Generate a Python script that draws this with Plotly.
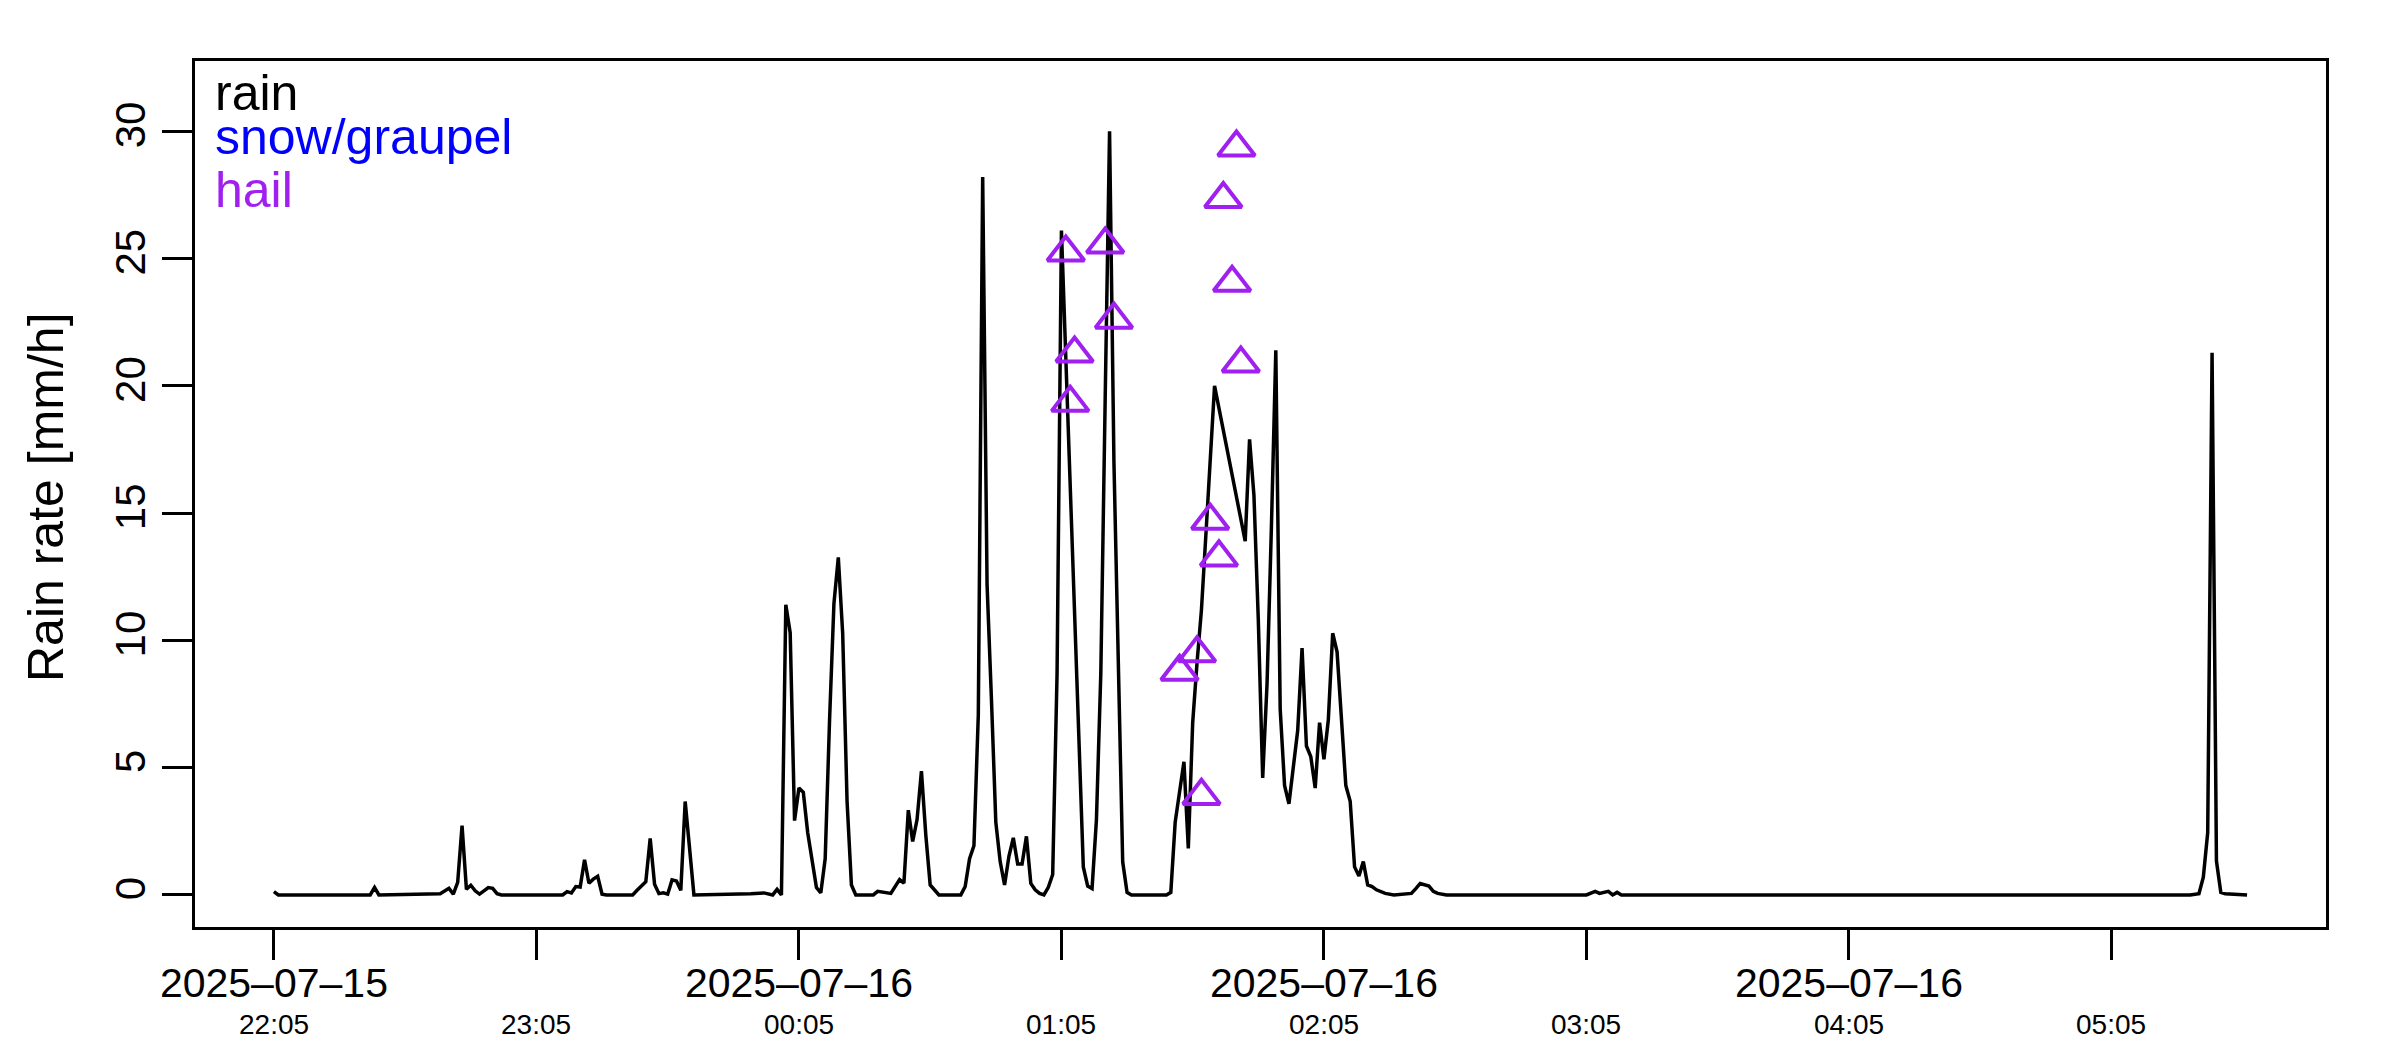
import pandas as pd
import plotly.graph_objects as go

start = pd.Timestamp("2025-07-15 22:05")

# rain rate [mm/h], time given as minutes after 22:05
rain_min = [0, 1, 22, 23, 24, 38, 40, 41, 42, 43, 44, 45, 46, 47, 49, 50, 51, 52,
            66, 67, 68, 69, 70, 71, 72, 73, 74, 75, 76, 82, 83, 85, 86, 87, 88, 89, 90, 91, 92, 93, 94, 95, 96,
            109, 112, 114, 115, 116, 117, 118, 119, 120, 121, 122, 123, 124, 125, 126, 127, 128, 129, 130, 131, 132, 133,
            137, 138, 140, 141, 143, 144, 145, 146, 147, 148, 149, 150, 152,
            157, 158, 159, 160, 161, 162, 163, 164, 165, 166, 167, 168, 169, 170, 171, 172, 173, 174, 175, 176,
            177, 178, 179, 180, 181, 182, 183, 184, 185, 186, 187, 188, 189, 190, 191, 192, 193, 194, 195, 196,
            204, 205, 206, 207, 208, 209, 210, 211, 212, 213, 214, 215,
            222, 223, 224, 225, 226, 227, 228, 229, 230, 231, 232, 233, 234, 235, 236, 237, 238, 239, 240, 241,
            242, 243, 244, 245, 246, 247, 248, 249, 250, 251, 252, 254, 256,
            260, 261, 262, 264, 265, 266, 268,
            300, 301, 302, 303, 305, 306, 307, 308,
            438, 440, 441, 442, 443, 444, 445, 446, 451]
rain_val = [0.13, 0, 0, 0.29, 0, 0.05, 0.26, 0.03, 0.49, 2.72, 0.22, 0.38, 0.16, 0.03, 0.29, 0.26, 0.05, 0,
            0, 0.13, 0.08, 0.33, 0.31, 1.38, 0.46, 0.62, 0.73, 0.03, 0, 0, 0.18, 0.52, 2.22, 0.42, 0.05, 0.08, 0.03, 0.59, 0.55, 0.18, 3.67, 2.0, 0,
            0.05, 0.08, 0, 0.22, 0, 11.4, 10.3, 2.92, 4.2, 4.03, 2.45, 1.31, 0.29, 0.08, 1.42, 6.87, 11.44, 13.26, 10.28, 3.68, 0.39, 0,
            0, 0.14, 0.1, 0.06, 0.6, 0.46, 3.33, 2.1, 2.96, 4.86, 2.35, 0.39, 0,
            0, 0.33, 1.42, 1.93, 7.08, 28.2, 12.2, 7.7, 2.86, 1.31, 0.39, 1.52, 2.24, 1.21, 1.21, 2.3, 0.45, 0.2, 0.06, 0,
            0.3, 0.8, 8.7, 26.1, 21.0, 16.2, 10.8, 5.4, 1.1, 0.35, 0.25, 2.96, 8.7, 19.5, 30.0, 17.0, 8.7, 1.3, 0.1, 0,
            0, 0.1, 2.86, 3.99, 5.23, 1.83, 6.77, 9.14, 11.2, 14.1, 17.0, 20.0,
            13.9, 17.9, 15.7, 10.8, 4.6, 8.3, 14.5, 21.4, 7.3, 4.3, 3.58, 5.0, 6.46, 9.7, 5.85, 5.43, 4.2, 6.77, 5.33, 6.87,
            10.28, 9.55, 6.67, 4.3, 3.68, 1.1, 0.74, 1.31, 0.39, 0.33, 0.2, 0.06, 0,
            0.06, 0.25, 0.45, 0.35, 0.14, 0.06, 0,
            0, 0.06, 0.14, 0.06, 0.14, 0, 0.1, 0,
            0, 0.05, 0.7, 2.45, 21.3, 1.33, 0.1, 0.05, 0]

# hail observations
hail_min = [181, 182, 183, 190, 192, 207, 211, 212, 214, 216, 217, 219, 220, 221]
hail_val = [25.24, 19.33, 21.27, 25.55, 22.6, 8.77, 9.49, 3.89, 14.7, 13.26, 27.34, 24.05, 29.36, 20.88]

# axis ticks
tick_min = [0, 60, 120, 180, 240, 300, 360, 420]
tick_dates = ["2025–07–15", "", "2025–07–16", "", "2025–07–16", "", "2025–07–16", ""]
tick_times = ["22:05", "23:05", "00:05", "01:05", "02:05", "03:05", "04:05", "05:05"]
y_ticks = [0, 5, 10, 15, 20, 25, 30]

legend_labels = ["rain", "snow/graupel", "hail"]
legend_colors = ["black", "#0000FF", "#A020F0"]


def to_time(minutes):
    return [(start + pd.Timedelta(minutes=m)).strftime("%Y-%m-%d %H:%M:%S.%f") for m in minutes]


font = "Liberation Sans, Arial, Helvetica, sans-serif"

fig = go.Figure()
fig.add_trace(go.Scatter(x=to_time(rain_min), y=rain_val, mode="lines",
                         line=dict(color="black", width=3.5), showlegend=False))
fig.add_trace(go.Scatter(x=to_time(hail_min), y=hail_val, mode="markers",
                         marker=dict(symbol="triangle-up-open", size=32, color="#A020F0",
                                     line=dict(color="#A020F0", width=4)),
                         showlegend=False))

# time of day under each tick
for m, t in zip(tick_min, tick_times):
    fig.add_annotation(x=to_time([m])[0], y=0, xref="x", yref="paper", text=t, showarrow=False,
                       xanchor="center", yanchor="middle", yshift=-97,
                       font=dict(family=font, size=28, color="black"))

# coloured text legend
legend_shift = [-32, -76, -129]
for lab, col, ys in zip(legend_labels, legend_colors, legend_shift):
    fig.add_annotation(x=0, y=1, xref="paper", yref="paper", text=lab, showarrow=False,
                       xanchor="left", yanchor="middle", xshift=18, yshift=ys,
                       font=dict(family=font, size=50, color=col))

fig.add_annotation(x=0, y=0.4965, xref="paper", yref="paper", text="Rain rate [mm/h]",
                   textangle=-90, showarrow=False, xanchor="center", yanchor="middle", xshift=-149,
                   font=dict(family=font, size=50, color="black"))

fig.update_xaxes(type="date", range=to_time([-18.04, 469.04]),
                 tickvals=to_time(tick_min), ticktext=tick_dates,
                 ticks="outside", ticklen=30, tickwidth=3, tickcolor="black",
                 ticklabelstandoff=-12,
                 showline=True, linewidth=3, linecolor="black", mirror=True,
                 showgrid=False, zeroline=False,
                 tickfont=dict(family=font, size=41, color="black"))
fig.update_yaxes(range=[-1.26, 32.76], tickvals=y_ticks, ticktext=[str(v) for v in y_ticks],
                 tickangle=-90, ticks="outside", ticklen=30, tickwidth=3, tickcolor="black",
                 showline=True, linewidth=3, linecolor="black", mirror=True,
                 showgrid=False, zeroline=False,
                 tickfont=dict(family=font, size=42, color="black"))

fig.update_layout(width=2400, height=1050, margin=dict(l=195, r=74, t=61, b=123, autoexpand=False),
                  plot_bgcolor="white", paper_bgcolor="white", font=dict(family=font))

fig.write_html("out.html", config={"displayModeBar": False},
               post_script="document.body.style.margin='0';")
